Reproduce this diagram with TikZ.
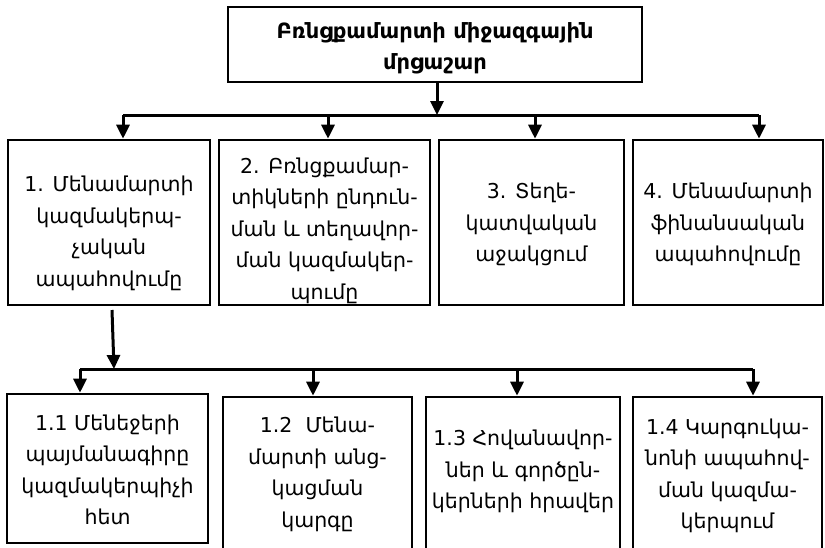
\documentclass[tikz,border=0pt]{standalone}
\usepackage{fontspec}
\setmainfont{DejaVu Sans}
\usetikzlibrary{arrows.meta}

% multi-line centred text, moved up/down without changing the node size
\newcommand{\boxtext}[2]{\raisebox{#1}[\height][\depth]{\begin{tabular}{@{}c@{}}#2\end{tabular}}}

\begin{document}
\begin{tikzpicture}[x=1pt,y=-1pt,
  cell/.style={draw, line width=2.6pt, rectangle, inner sep=0pt,
    font=\fontsize{20.5}{31.5}\selectfont},
  head/.style={cell, font=\bfseries\fontsize{21}{31}\selectfont},
  link/.style={line width=3pt},
  arr/.style={line width=3pt, -{Triangle[width=13pt,length=14pt]}}]

\useasboundingbox (0,0) rectangle (825,547);
\clip (0,0) rectangle (825,547);

% top node
\node[head, minimum width=414pt, minimum height=75pt] (title) at (435,44.5)
  {\boxtext{-3pt}{Բռնցքամարտի միջազգային\\մրցաշար}};

% first level
\node[cell, minimum width=202pt, minimum height=165pt] (b1) at (109,222.5)
  {\boxtext{-10pt}{1. Մենամարտի\\կազմակերպ-\\չական\\ապահովումը}};
\node[cell, minimum width=211pt, minimum height=165pt] (b2) at (324.5,222.5)
  {\boxtext{-7.5pt}{2. Բռնցքամար-\\տիկների ընդուն-\\ման և տեղավոր-\\ման կազմակեր-\\պումը}};
\node[cell, minimum width=185pt, minimum height=165pt] (b3) at (531.5,222.5)
  {\boxtext{-1.5pt}{3. Տեղե-\\կատվական\\աջակցում}};
\node[cell, minimum width=190pt, minimum height=165pt] (b4) at (728,222.5)
  {\boxtext{-1.5pt}{4. Մենամարտի\\ֆինանսական\\ապահովումը}};

% second level
\node[cell, minimum width=201pt, minimum height=149pt] (c1) at (107.5,468.5)
  {\boxtext{-2.5pt}{1.1 Մենեջերի\\պայմանագիրը\\կազմակերպիչի\\հետ}};
\node[cell, minimum width=189pt, minimum height=174pt] (c2) at (317.5,484)
  {\boxtext{10.5pt}{1.2\ \ Մենա-\\մարտի անց-\\կացման\\կարգը}};
\node[cell, minimum width=194pt, minimum height=174pt] (c3) at (523,484)
  {\boxtext{13pt}{1.3 Հովանավոր-\\ներ և գործըն-\\կերների հրավեր}};
\node[cell, minimum width=189pt, minimum height=174pt] (c4) at (727.5,484)
  {\boxtext{9pt}{1.4 Կարգուկա-\\նոնի ապահով-\\ման կազմա-\\կերպում}};

% upper branching line
\coordinate (tj) at (437,115);
\coordinate (t1) at (123,115);
\coordinate (t2) at (328,115);
\coordinate (t3) at (535,115);
\coordinate (t4) at (759,115);
\draw[arr] (title.south -| tj) -- (tj);
\draw[link] (t1) -- (t4);
\foreach \i in {1,2,3,4} \draw[arr] (t\i) -- (t\i |- b\i.north);

% lower branching line
\coordinate (d0) at (112,310);
\coordinate (dj) at (114,369);
\coordinate (u1) at (80,369);
\coordinate (u2) at (313,369);
\coordinate (u3) at (517,369);
\coordinate (u4) at (753,369);
\draw[arr] (d0) -- (dj);
\draw[link] (u1) -- (u4);
\foreach \i in {1,2,3,4} \draw[arr] (u\i) -- (u\i |- c\i.north);
\end{tikzpicture}
\end{document}
